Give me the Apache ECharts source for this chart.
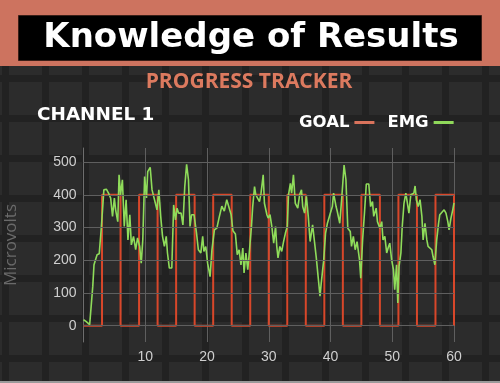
<!DOCTYPE html>
<html>
<head>
<meta charset="utf-8">
<script src="https://cdn.jsdelivr.net/npm/echarts@6/dist/echarts.min.js"></script>
<style>
html,body{margin:0;padding:0;}
body{width:500px;height:383px;overflow:hidden;
 background-color:#222222;
 background-image:
  linear-gradient(90deg, rgba(34,34,34,1) 0 7px, rgba(0,0,0,0) 7px 100%),
  linear-gradient(0deg, rgba(34,34,34,1) 0 7px, rgba(0,0,0,0) 7px 100%),
  linear-gradient(#2c2c2c,#2c2c2c);
 background-size:40px 40px,40px 40px,100% 100%;
 background-position:2px 0,0 2px,0 0;}
#chart{width:500px;height:383px;}
</style>
</head>
<body>
<div id="chart"></div>
<script>
// ---- data ----
var titleText = 'Knowledge of Results';
var subtitleText = 'PROGRESS TRACKER';
var channelText = 'CHANNEL 1';
var yAxisName = 'Microvolts';
var seriesNames = ['GOAL', 'EMG'];

var xTicks = [10, 20, 30, 40, 50, 60];
var yTicks = [0, 100, 200, 300, 400, 500];

// goal: step levels, each held until the next time
var goalTimes  = [0, 3, 6, 9, 12, 15, 18, 21, 24, 27, 30, 33, 36, 39, 42, 45, 48, 51, 54, 57, 60];
var goalValues = [0, 400, 0, 400, 0, 400, 0, 400, 0, 400, 0, 400, 0, 400, 0, 400, 0, 400, 0, 400, 0];

// EMG trace
var emgTimes = [0.0,0.4,1.0,1.5,1.7,2.0,2.2,2.55,2.9,3.3,3.7,4.05,4.4,4.7,5.0,5.2,5.55,5.76,6.0,6.3,6.6,6.9,7.2,7.5,7.75,8.1,8.45,8.75,9.1,9.35,9.6,9.9,10.2,10.4,10.8,11.1,11.5,11.9,12.2,12.5,12.8,13.1,13.4,13.6,13.9,14.3,14.6,14.9,15.15,15.4,15.8,16.1,16.4,16.7,17.0,17.25,17.5,17.9,18.3,18.6,19.0,19.3,19.5,19.8,20.1,20.5,20.8,21.2,21.6,21.96,22.4,22.8,23.2,23.5,23.9,24.2,24.6,24.9,25.2,25.5,25.8,26.0,26.3,26.6,26.8,27.2,27.4,27.7,27.9,28.2,28.5,28.75,29.1,29.3,29.7,29.9,30.2,30.5,30.8,31.1,31.3,31.5,31.8,32.1,32.4,32.7,33.0,33.2,33.5,33.7,34.0,34.3,34.7,35.0,35.3,35.5,35.8,36.1,36.4,36.7,37.1,37.4,37.7,38.0,38.3,38.5,38.9,39.2,39.5,39.9,40.3,40.5,40.9,41.1,41.5,41.8,42.2,42.5,42.8,43.2,43.4,43.7,44.0,44.3,44.7,44.9,45.2,45.5,45.8,46.2,46.5,46.8,47.0,47.4,47.6,48.0,48.3,48.5,48.8,49.1,49.4,49.6,49.9,50.2,50.4,50.7,50.9,51.1,51.4,51.6,51.9,52.2,52.4,52.7,53.0,53.2,53.5,53.7,53.9,54.2,54.5,54.8,55.0,55.3,55.6,55.8,56.1,56.4,56.6,56.9,57.2,57.5,57.7,58.0,58.4,58.7,59.0,59.2,59.5,59.8,60.0];
var emgValues = [18,13,3,120,186,189,217,220,303,415,417,405,390,334,390,354,318,461,400,446,303,385,262,339,247,273,232,268,242,191,262,456,390,471,484,415,385,354,415,334,273,242,273,222,176,176,369,323,359,344,344,308,425,493,446,303,339,339,283,232,222,273,227,242,191,150,232,293,298,330,365,350,385,380,340,290,280,217,232,186,237,161,222,171,212,303,364,425,400,405,379,405,461,374,339,329,339,303,252,303,242,207,242,227,257,283,303,400,435,405,461,374,359,400,415,364,344,395,334,257,308,308,207,201,90,130,201,283,313,339,364,405,364,349,313,385,491,446,298,288,242,273,232,257,201,145,262,344,433,433,364,379,334,359,318,298,318,262,273,222,242,252,201,171,110,186,69,181,222,298,374,405,400,344,400,395,405,427,385,364,385,334,262,313,262,242,237,232,212,186,262,313,339,344,354,344,318,293,328,354,375];

// ---- build ----
function pairs(xs, ys){ var out=[]; for (var i=0;i<xs.length;i++) out.push([xs[i], ys[i]]); return out; }

var chart = echarts.init(document.getElementById('chart'), null, {renderer:'canvas'});
var gridCol = '#5f5f5f';
var option = {
  backgroundColor: 'transparent',
  animation: false,
  graphic: [
    {type:'rect', left:0, top:0, shape:{width:500, height:66}, style:{fill:'#cd735f'}, z:10},
    {type:'rect', left:18, top:15, shape:{width:463, height:45}, style:{fill:'#000000', stroke:'#3a1f18', lineWidth:1}, z:11},
    {type:'text', x:251, y:38, z:12, style:{text:titleText, fill:'#ffffff', font:'bold 34px "DejaVu Sans"', textAlign:'center', textVerticalAlign:'middle'}},
    {type:'text', x:249, y:82, z:12, style:{text:subtitleText, fill:'#dc7a5f', font:'bold 21px "Open Sans"', textAlign:'center', textVerticalAlign:'middle'}},
    {type:'text', x:37, y:115, z:12, style:{text:channelText, fill:'#ffffff', font:'bold 18.4px "DejaVu Sans"', textAlign:'left', textVerticalAlign:'middle'}},
    {type:'rect', left:0, top:381, shape:{width:500, height:2}, style:{fill:'#9a9a9a'}, z:12}
  ],
  legend: {
    data: [
      {name: seriesNames[0], itemStyle:{color:'#d9735c'}},
      {name: seriesNames[1], itemStyle:{color:'#8fd85a'}}
    ],
    left: 299, top: 114, padding: 0,
    align: 'right',
    icon: 'rect',
    itemWidth: 20, itemHeight: 3, itemGap: 13,
    textStyle: {color:'#ffffff', fontWeight:'bold', fontSize:16.5, fontFamily:'DejaVu Sans'}
  },
  grid: {left: 83.5, right: 46, top: 148, bottom: 41, containLabel: false, outerBoundsMode: 'none'},
  xAxis: {
    type: 'value', min: 0, max: 60, interval: 10,
    axisLine: {show:true, lineStyle:{color:'#6e6e6e', width:1}},
    axisTick: {show:false},
    axisLabel: {color:'#cfcfcf', fontSize:14, fontFamily:'Liberation Sans', margin:8,
      formatter: function(v){ return xTicks.indexOf(v) >= 0 ? String(v) : ''; }},
    splitLine: {show:true, lineStyle:{color:gridCol, width:1}}
  },
  yAxis: {
    type: 'value', min: -50, max: 543, interval: 50,
    name: yAxisName, nameLocation: 'middle', nameRotate: 90, nameGap: 64,
    nameTextStyle: {color:'#6a6a6a', fontSize:17, fontFamily:'Open Sans'},
    axisLine: {show:true, lineStyle:{color:'#6e6e6e', width:1}},
    axisTick: {show:false},
    axisLabel: {color:'#cfcfcf', fontSize:14, fontFamily:'Liberation Sans', margin:7,
      formatter: function(v){ return yTicks.indexOf(v) >= 0 ? String(v) : ''; }},
    splitLine: {show:false}
  },
  series: [
    {
      name: '_grid', type: 'line', data: [], z: 1, silent: true,
      markLine: {silent:true, symbol:'none', label:{show:false}, animation:false,
        lineStyle:{color:gridCol, type:'solid', width:1},
        data: yTicks.map(function(v){ return {yAxis: v}; })}
    },
    {
      name: seriesNames[0], type: 'line', step: 'end', showSymbol: false, symbol: 'none',
      data: pairs(goalTimes, goalValues), z: 3,
      lineStyle: {color:'#d8472a', width:2}, itemStyle:{color:'#d9735c'}
    },
    {
      name: seriesNames[1], type: 'line', showSymbol: false, symbol: 'none',
      data: pairs(emgTimes, emgValues), z: 4,
      lineStyle: {color:'#8fdc5a', width:1.6}, itemStyle:{color:'#8fd85a'}
    }
  ]
};
chart.setOption(option);
</script>
</body>
</html>
